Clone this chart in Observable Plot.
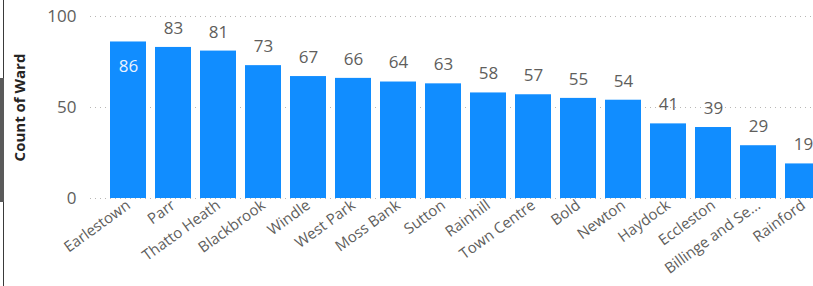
<!DOCTYPE html>
<html><head><meta charset="utf-8">
<script src="https://cdn.jsdelivr.net/npm/d3@7"></script>
<script src="https://cdn.jsdelivr.net/npm/@observablehq/plot@0.6"></script>
<style>
html,body{margin:0;padding:0;background:#fff;overflow:hidden;width:813px;height:286px}
#wrap{position:relative;width:813px;height:286px;overflow:hidden}
.edge{position:absolute;left:3px;top:0;width:1px;height:286px;background:#3a3a3a}
.thumb{position:absolute;left:0;top:78px;width:4px;height:124px;background:#5a5a5a}
#chart{position:absolute;left:0;top:0;width:830px}
#chart svg{max-width:none !important;width:830px;height:286px}
</style></head><body>
<div id="wrap"><div id="chart"></div><div class="edge"></div><div class="thumb"></div></div>
<script>
const wards = ["Earlestown","Parr","Thatto Heath","Blackbrook","Windle","West Park","Moss Bank","Sutton","Rainhill","Town Centre","Bold","Newton","Haydock","Eccleston","Billinge and Seneley Green","Rainford"];
const counts = [86,83,81,73,67,66,64,63,58,57,55,54,41,39,29,19];
const yTicks = [0,50,100];
const yTitle = "Count of Ward";

const data = wards.map((w,i)=>({ward:w,count:counts[i]}));
const maxCount = d3.max(counts);
const above = data.filter(d => d.count !== maxCount);
const inside = data.filter(d => d.count === maxCount);
const trunc = d => d.length > 16 ? d.slice(0,15) + "..." : d;
const font = "'Segoe UI','Open Sans',sans-serif";

const plot = Plot.plot({
  width: 830, height: 286,
  marginTop: 16, marginBottom: 88, marginLeft: 90, marginRight: 5,
  style: {fontFamily: font, background: "transparent", overflow: "visible"},
  x: {domain: wards, range: [105, 825], paddingInner: 0.2, paddingOuter: 0.1, label: null},
  y: {domain: [0,100], label: null},
  marks: [
    Plot.gridY(yTicks, {stroke: "#b9b7b5", strokeOpacity: 1, strokeDasharray: "1,4", strokeWidth: 1.2}),
    Plot.axisY(yTicks, {tickSize: 0, tickPadding: 14, fontSize: 17, fill: "#605E5C", label: null}),
    Plot.axisX({tickSize: 0, tickPadding: 5, tickRotate: -36, fontSize: 15, fill: "#605E5C", tickFormat: trunc, label: null}),
    Plot.barY(data, {x: "ward", y: "count", fill: "#118DFF"}),
    Plot.text(above, {x: "ward", y: "count", text: d => String(d.count), dy: -19, fontSize: 17, fill: "#605E5C"}),
    Plot.text(inside, {x: "ward", y: "count", text: d => String(d.count), dy: 25, fontSize: 17, fill: "#eaf3ff"}),
    Plot.text([yTitle], {frameAnchor: "left", textAnchor: "middle", dx: -70, rotate: -90, fontSize: 15, fontWeight: "bold", fill: "#252423"})
  ]
});
document.getElementById("chart").appendChild(plot);
</script>
</body></html>
